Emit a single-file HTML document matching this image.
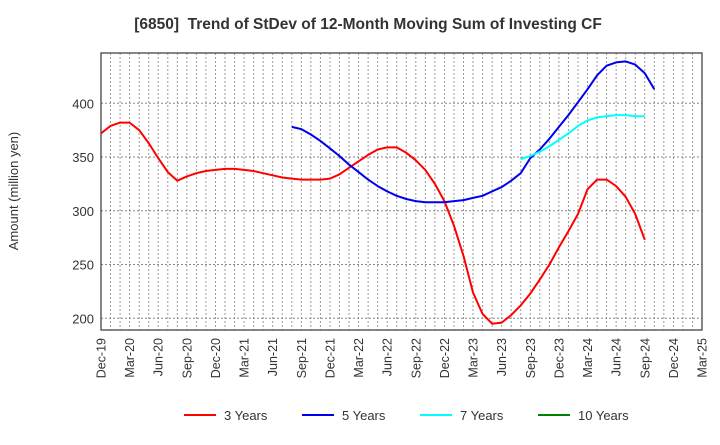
<!DOCTYPE html>
<html><head><meta charset="utf-8"><style>
body{margin:0;background:#fff;font-family:"Liberation Sans",Arial,sans-serif;}
</style></head><body>
<svg id="chart" width="720" height="440" xmlns="http://www.w3.org/2000/svg" font-family="Liberation Sans, Arial, sans-serif">
<text x="368" y="29" text-anchor="middle" font-size="15.5" font-weight="bold" fill="#333" xml:space="preserve">[6850]  Trend of StDev of 12-Month Moving Sum of Investing CF</text>
<text transform="translate(18,191) rotate(-90)" text-anchor="middle" font-size="13" fill="#333">Amount (million yen)</text>
<g id="grid"></g>
<g id="axes"></g>
<g id="series"></g>
<g id="legend"></g>
</svg>
<script>
const xLabels=["Dec-19","Mar-20","Jun-20","Sep-20","Dec-20","Mar-21","Jun-21","Sep-21","Dec-21","Mar-22","Jun-22","Sep-22","Dec-22","Mar-23","Jun-23","Sep-23","Dec-23","Mar-24","Jun-24","Sep-24","Dec-24","Mar-25"];
const yTicks=[200,250,300,350,400];
const s3=[372,379,382,382,375,363,349,336,328,332,335,337,338,339,339,338,337,335,333,331,330,329,329,329,330,334,340,346,352,357,359,359,354,347,338,325,309,286,258,224,204,195,196,203,212,223,236,250,266,281,297,320,329,329,323,313,297,273];
const s5start=20;
const s5=[378,376,371,365,358,351,343,336,329,323,318,314,311,309,308,308,308,309,310,312,314,318,322,328,335,349,357,367,378,389,401,413,426,435,438,439,436,428,413];
const s7start=44;
const s7=[348,351,355,360,366,372,379,384,387,388,389,389,388,388];
const s10=[];
const NS="http://www.w3.org/2000/svg";
const L=101,R=702,T=53,B=330;
const xm=m=>L+m*(R-L)/63;
const yv=v=>103.3+(400-v)*1.075;
function mk(tag,attrs,parent){const e=document.createElementNS(NS,tag);for(const k in attrs)e.setAttribute(k,attrs[k]);document.getElementById(parent).appendChild(e);return e;}
for(let m=1;m<63;m++){const g=mk('line',{x1:xm(m),x2:xm(m),y1:T,y2:B,stroke:'#999','stroke-dasharray':'2,2','stroke-width':1},'grid');

}
yTicks.forEach(v=>{const g=mk('line',{x1:L,x2:R,y1:yv(v),y2:yv(v),stroke:'#888','stroke-dasharray':'2,2','stroke-width':1},'grid');


const t=mk('text',{x:L-7,y:yv(v)+5,'text-anchor':'end','font-size':13,fill:'#333'},'axes');t.textContent=v;

});
const box=mk('rect',{x:L,y:T,width:R-L,height:B-T,fill:'none',stroke:'#444','stroke-width':1.3},'axes');


xLabels.forEach((s,i)=>{const x=xm(i*3);const t=mk('text',{transform:`translate(${x+4.5},${B+8}) rotate(-90)`,'text-anchor':'end','font-size':12.5,fill:'#333'},'axes');t.textContent=s;

});
function line(arr,start,color,name){if(!arr.length)return;const p=arr.map((v,i)=>xm(start+i).toFixed(1)+','+yv(v).toFixed(1)).join(' ');
const e=mk('polyline',{points:p,fill:'none',stroke:color,'stroke-width':2,'stroke-linejoin':'round'},'series');

}
line(s3,0,'#ff0000','series-3-years');
line(s5,s5start,'#0000ee','series-5-years');
line(s7,s7start,'#00ffff','series-7-years');
line(s10,0,'#008000','series-10-years');
const leg=[["3 Years","#ff0000",184],["5 Years","#0000ee",302],["7 Years","#00ffff",420],["10 Years","#008000",538]];
leg.forEach(([n,c,x])=>{const l=mk('line',{x1:x,x2:x+32,y1:415,y2:415,stroke:c,'stroke-width':2},'legend');


const t=mk('text',{x:x+40,y:420,'font-size':13,fill:'#333'},'legend');t.textContent=n;

});
</script>
</body></html>
